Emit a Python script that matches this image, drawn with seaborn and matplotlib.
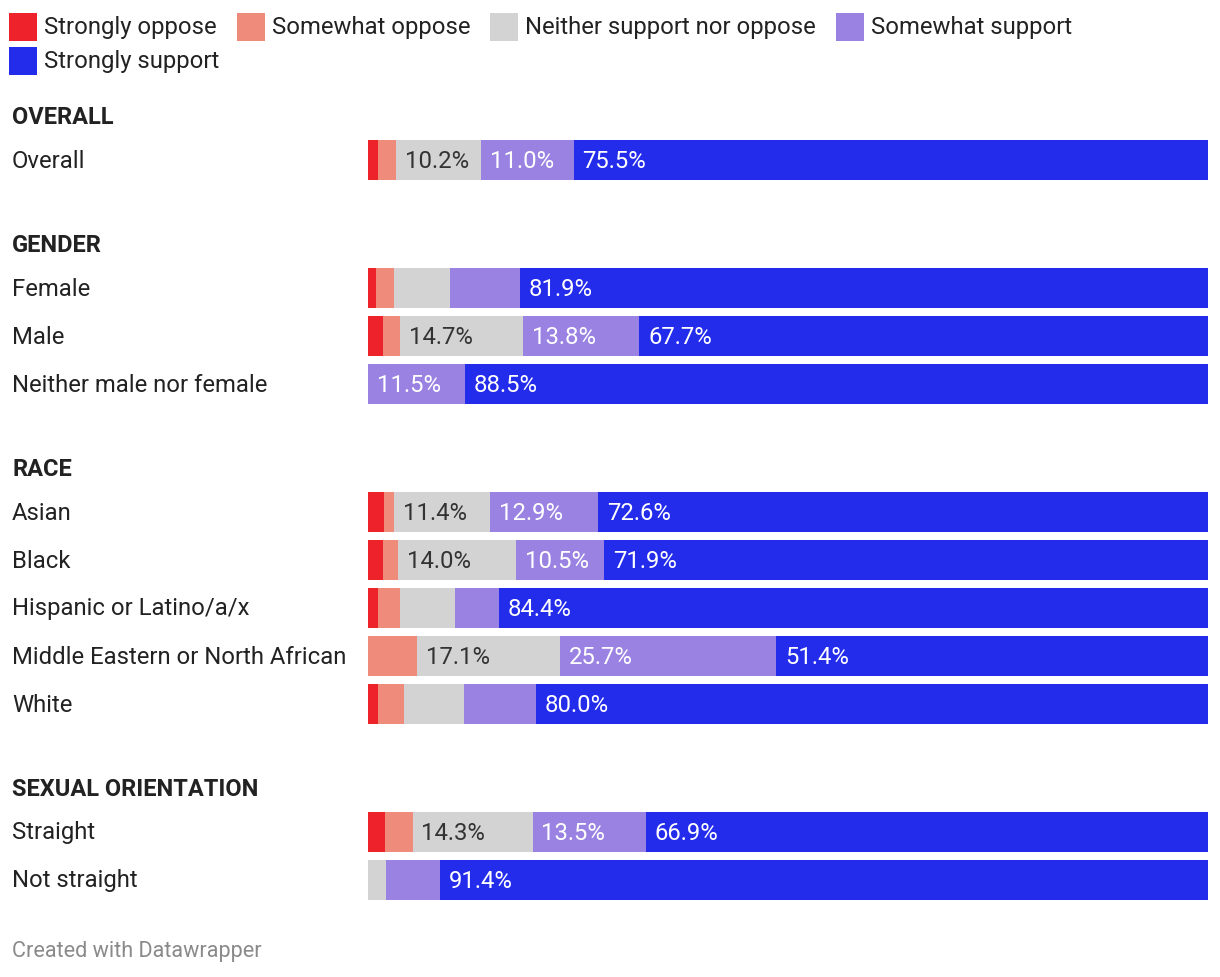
import matplotlib
matplotlib.use("Agg")
import matplotlib.pyplot as plt
import matplotlib.patches as mpatches
import matplotlib.transforms as mtransforms
import numpy as np
import pandas as pd
import seaborn as sns

# values (percent of respondents)
groups = ["OVERALL", "GENDER", "GENDER", "GENDER",
          "RACE", "RACE", "RACE", "RACE", "RACE",
          "SEXUAL ORIENTATION", "SEXUAL ORIENTATION"]
categories = ["Overall", "Female", "Male", "Neither male nor female",
              "Asian", "Black", "Hispanic or Latino/a/x",
              "Middle Eastern or North African", "White",
              "Straight", "Not straight"]
strongly_oppose = [1.2, 1.0, 1.8, 0.0, 1.9, 1.8, 1.2, 0.0, 1.2, 2.0, 0.0]
somewhat_oppose = [2.1, 2.1, 2.0, 0.0, 1.2, 1.8, 2.6, 5.8, 3.1, 3.3, 0.0]
neither = [10.2, 6.7, 14.7, 0.0, 11.4, 14.0, 6.5, 17.1, 7.1, 14.3, 2.2]
somewhat_support = [11.0, 8.3, 13.8, 11.5, 12.9, 10.5, 5.3, 25.7, 8.6, 13.5, 6.4]
strongly_support = [75.5, 81.9, 67.7, 88.5, 72.6, 71.9, 84.4, 51.4, 80.0, 66.9, 91.4]

series_names = ["Strongly oppose", "Somewhat oppose", "Neither support nor oppose",
                "Somewhat support", "Strongly support"]
colors = ["#ee222b", "#ef8b7b", "#d3d3d3", "#9a82e2", "#232ceb"]
label_colors = ["white", "#333333", "#333333", "white", "white"]

df = pd.DataFrame({
    "group": groups,
    "category": categories,
    series_names[0]: strongly_oppose,
    series_names[1]: somewhat_oppose,
    series_names[2]: neither,
    series_names[3]: somewhat_support,
    series_names[4]: strongly_support,
})

W, H = 1220, 978
FONT = ["Roboto", "DejaVu Sans"]
FS = 17.2
sns.set_theme(style="white")
plt.rcParams["font.family"] = FONT

# layout in pixels
row_step = 48
header_gap = 44
group_gap = 84
y = 116.5
header_pos = {}
ypos = []
prev = None
for g in df["group"]:
    if g != prev:
        if prev is not None:
            y = ypos[-1] + group_gap
        header_pos[g] = y
        y = y + header_gap
        ypos.append(y)
    else:
        ypos.append(ypos[-1] + row_step)
    prev = g
df["y"] = ypos

fig = plt.figure(figsize=(W / 100, H / 100), dpi=100)
ax = fig.add_axes([368 / W, 0, 840 / W, 1])

# stacked bars drawn as overlapping cumulative totals
cum = df[series_names].cumsum(axis=1)
for k in range(len(series_names) - 1, -1, -1):
    sns.barplot(x=cum[series_names[k]], y=df["y"], orient="y", native_scale=True,
                color=colors[k], saturation=1, width=40 / 48, linewidth=0,
                errorbar=None, ax=ax)

ax.set_xlim(0, 100)
ax.set_ylim(H, 0)
ax.axis("off")

# segment labels (only segments of 10% or more)
for i, row in df.iterrows():
    left = 0.0
    for k, s in enumerate(series_names):
        v = row[s]
        if v >= 10:
            ax.text(left + 1.05, row["y"] + 0.5, f"{v:.1f}%", ha="left", va="center",
                    fontsize=FS, color=label_colors[k])
        left += v

# category and group labels
tr = mtransforms.blended_transform_factory(fig.transFigure, ax.transData)
for i, row in df.iterrows():
    ax.text(12 / W, row["y"] + 0.5, row["category"], transform=tr, ha="left",
            va="center", fontsize=FS, color="#222222")
for g, hy in header_pos.items():
    ax.text(12 / W, hy + 0.5, g, transform=tr, ha="left", va="center",
            fontsize=17, fontweight="bold", color="#222222")

# legend (wrapped like the original)
def fx(px):
    return px / W

def fy(py):
    return 1 - py / H

renderer = fig.canvas.get_renderer()
lx, ly = 9, 28
for k, s in enumerate(series_names):
    if k == 4:
        lx, ly = 9, 62
    fig.add_artist(mpatches.Rectangle((fx(lx), fy(ly + 14)), 28 / W, 28 / H,
                                      transform=fig.transFigure, color=colors[k], lw=0))
    t = fig.text(fx(lx + 35), fy(ly - 0.5), s, ha="left", va="center",
                 fontsize=FS, color="#222222")
    bb = t.get_window_extent(renderer)
    lx = bb.x1 + 20

fig.text(fx(12), fy(952), "Created with Datawrapper", ha="left", va="center",
         fontsize=15.6, color="#8a8a8a")

fig.savefig("out.png", dpi=100)
